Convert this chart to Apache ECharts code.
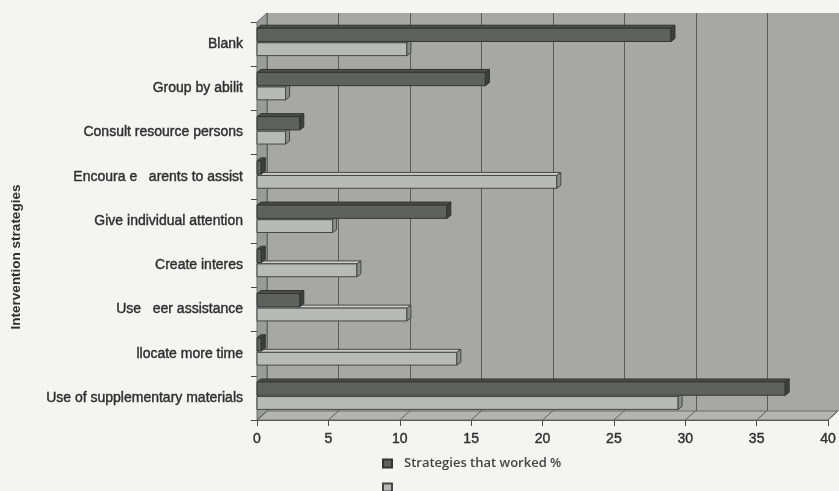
<!DOCTYPE html>
<html><head><meta charset="utf-8">
<script src="https://cdn.jsdelivr.net/npm/echarts@6/dist/echarts.min.js"></script>
<style>html,body{margin:0;padding:0;background:#f4f4f2;} #c{width:839px;height:491px;}</style>
</head><body><div id="c"></div>
<script>
var categories = ['Blank', 'Group by abilit', 'Consult resource persons', 'Encoura e   arents to assist', 'Give individual attention', 'Create interes', 'Use   eer assistance', 'llocate more time', 'Use of supplementary materials'];
var workedValues = [29, 16, 3, 0.3, 13.3, 0.3, 3, 0.3, 37];
var otherValues = [10.5, 2, 2, 21, 5.3, 7, 10.5, 14, 29.5];
var xTicks = [0, 5, 10, 15, 20, 25, 30, 35, 40];
var seriesNames = ['Strategies that worked %', ' '];
var axisTitle = 'Intervention strategies';

var DX = 10, DY = 9;
var styles = [
  {fill: '#5e615c', top: '#4b4d49', side: '#3d3f3b', border: '#333531'},
  {fill: '#b8bab5', top: '#cdcecb', side: '#8a8c87', border: '#454743'}
];

function makeBar(kind) {
  return function (params, api) {
    var c = api.value(0), v = api.value(1);
    var p0 = api.coord([0, c]);
    var p1 = api.coord([v, c]);
    var band = api.size([0, 1])[1];
    var cy = p0[1];
    var top, bot;
    if (kind === 0) { top = cy - band * 0.36; bot = cy - band * 0.06; }
    else { top = cy - band * 0.03; bot = cy + band * 0.26; }
    var dx = 4, dy = 3;
    var x0 = p0[0], x1 = p1[0];
    var s = styles[kind];
    return {type: 'group', children: [
      {type: 'polygon', shape: {points: [[x0, top], [x0 + dx, top - dy], [x1 + dx, top - dy], [x1, top]]}, style: {fill: s.top, stroke: s.border, lineWidth: 1}},
      {type: 'rect', shape: {x: x0, y: top, width: x1 - x0, height: bot - top}, style: {fill: s.fill, stroke: s.border, lineWidth: 1}},
      {type: 'polygon', shape: {points: [[x1, top], [x1 + dx, top - dy], [x1 + dx, bot - dy], [x1, bot]]}, style: {fill: s.side, stroke: s.border, lineWidth: 1}}
    ]};
  };
}

function renderWalls(params, api) {
  var cs = params.coordSys;
  var x = cs.x, y = cs.y, w = cs.width, h = cs.height;
  var children = [
    {type: 'polygon', shape: {points: [[x, y + h], [x + w, y + h], [x + w + DX, y + h - DY], [x + DX, y + h - DY]]}, style: {fill: '#b4b5b1', stroke: '#6a6c68', lineWidth: 1}},
    {type: 'polygon', shape: {points: [[x, y], [x + DX, y - DY], [x + DX, y + h - DY], [x, y + h]]}, style: {fill: '#9a9c97', stroke: '#6a6c68', lineWidth: 1}}
  ];
  xTicks.forEach(function (t) {
    var px = api.coord([t, 0])[0];
    children.push({type: 'line', shape: {x1: px, y1: y + h, x2: px + DX, y2: y + h - DY}, style: {stroke: '#5d5f5b', lineWidth: 1}});
  });
  return {type: 'group', children: children};
}

var labelStyle = {fontFamily: 'Liberation Sans', fontSize: 14, color: '#2e2e2e', textBorderColor: '#2e2e2e', textBorderWidth: 0.4};
var legendText = {fontFamily: 'Open Sans', fontSize: 13, fontWeight: 600, color: '#444', padding: [0, 0, 0, 7]};

var chart = echarts.init(document.getElementById('c'), null, {renderer: 'canvas'});
chart.setOption({
  backgroundColor: '#f4f4f2',
  animation: false,
  grid: [
    {left: 257, right: 10, top: 22, bottom: 71, containLabel: false},
    {left: 257 + DX, right: 0, top: 22 - DY, bottom: 71 + DY, show: true, backgroundColor: '#a7a8a4', borderWidth: 0}
  ],
  xAxis: [
    {gridIndex: 0, type: 'value', min: 0, max: 40, interval: 5,
     axisLine: {show: true, lineStyle: {color: '#4a4a4a', width: 1}},
     axisTick: {show: true, length: 6, lineStyle: {color: '#4a4a4a'}},
     splitLine: {show: false},
     axisLabel: Object.assign({margin: 12}, labelStyle)},
    {gridIndex: 1, type: 'value', min: 0, max: 40, interval: 5,
     axisLine: {show: false}, axisTick: {show: false}, axisLabel: {show: false},
     splitLine: {show: true, lineStyle: {color: '#5a5c58', width: 1}}}
  ],
  yAxis: [
    {gridIndex: 0, type: 'category', inverse: true, data: categories,
     axisLine: {show: true, lineStyle: {color: '#4a4a4a', width: 1}},
     axisTick: {show: true, length: 6, lineStyle: {color: '#4a4a4a'}},
     axisLabel: Object.assign({margin: 14}, labelStyle)},
    {gridIndex: 1, type: 'category', inverse: true, data: categories, show: false}
  ],
  legend: [
    {orient: 'vertical', left: 382, top: 457, padding: 0, itemWidth: 9, itemHeight: 8,
     data: [{name: seriesNames[0], icon: 'rect'}], textStyle: legendText},
    {orient: 'vertical', left: 382, top: 481, padding: 0, itemWidth: 9, itemHeight: 8,
     data: [{name: seriesNames[1], icon: 'rect'}], textStyle: legendText}
  ],
  graphic: [
    {type: 'text', x: 16, y: 257, rotation: Math.PI / 2,
     style: {text: axisTitle, font: 'bold 13.5px "Liberation Sans"', fill: '#2e2e2e', textAlign: 'center', textVerticalAlign: 'middle'}}
  ],
  series: [
    {type: 'custom', name: 'walls', xAxisIndex: 0, yAxisIndex: 0, z: 1, silent: true,
     renderItem: renderWalls, data: [[0, 0]], encode: {x: 1, y: 0}},
    {type: 'custom', name: seriesNames[1], xAxisIndex: 0, yAxisIndex: 0, z: 3,
     itemStyle: {color: styles[1].fill, borderColor: styles[1].border, borderWidth: 1},
     renderItem: makeBar(1), encode: {x: 1, y: 0},
     data: otherValues.map(function (v, i) { return [i, v]; })},
    {type: 'custom', name: seriesNames[0], xAxisIndex: 0, yAxisIndex: 0, z: 4,
     itemStyle: {color: styles[0].fill, borderColor: styles[0].border, borderWidth: 1},
     renderItem: makeBar(0), encode: {x: 1, y: 0},
     data: workedValues.map(function (v, i) { return [i, v]; })}
  ]
});
</script>
</body></html>
